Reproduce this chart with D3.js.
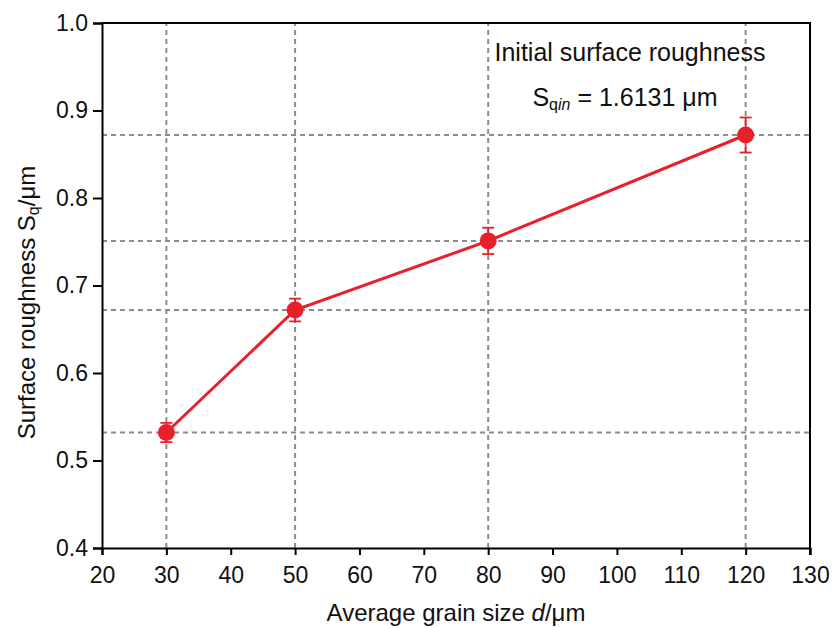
<!DOCTYPE html>
<html>
<head>
<meta charset="utf-8">
<script src="https://cdn.jsdelivr.net/npm/d3@7"></script>
<style>
  html, body { margin: 0; padding: 0; background: #fff; }
  svg { display: block; font-family: "Liberation Sans", Arial, sans-serif; }
</style>
</head>
<body>
<svg id="chart" width="834" height="628"></svg>
<script>
// Grain size (µm) and measured surface roughness Sq (µm) with error half-widths
const grainSize = [30, 50, 80, 120];
const roughness = [0.532, 0.672, 0.751, 0.872];
const roughnessErr = [0.011, 0.013, 0.015, 0.020];
const xTicks = [20, 30, 40, 50, 60, 70, 80, 90, 100, 110, 120, 130];
const yTicks = [0.4, 0.5, 0.6, 0.7, 0.8, 0.9, 1.0];

const svg = d3.select("#chart");
const margin = { left: 102, right: 24, top: 23, bottom: 80 };
const W = 834, H = 628;

const x = d3.scaleLinear().domain([20, 130]).range([margin.left, W - margin.right]);
const y = d3.scaleLinear().domain([0.4, 1.0]).range([H - margin.bottom, margin.top]);

const red = "#e8202a";
const gridColor = "#8c8c8c";

// Reference grid lines through every measured point
const grid = svg.append("g");
grid.selectAll("line.v").data(grainSize).join("line")
  .attr("x1", d => x(d)).attr("x2", d => x(d))
  .attr("y1", y(0.4)).attr("y2", y(1.0))
  .attr("stroke", gridColor).attr("stroke-width", 2).attr("stroke-dasharray", "5,4");
grid.selectAll("line.h").data(roughness).join("line")
  .attr("x1", x(20)).attr("x2", x(130))
  .attr("y1", d => y(d)).attr("y2", d => y(d))
  .attr("stroke", gridColor).attr("stroke-width", 2).attr("stroke-dasharray", "5,4");

// Axes
const xAxis = svg.append("g")
  .attr("transform", `translate(0,${y(0.4)})`)
  .call(d3.axisBottom(x).tickValues(xTicks).tickSize(7).tickPadding(12).tickFormat(d3.format("d")));
const yAxis = svg.append("g")
  .attr("transform", `translate(${x(20)},0)`)
  .call(d3.axisLeft(y).tickValues(yTicks).tickSize(9).tickPadding(5).tickFormat(d3.format(".1f")));
[xAxis, yAxis].forEach(g => {
  g.select(".domain").attr("stroke", "#000").attr("stroke-width", 2);
  g.selectAll(".tick line").attr("stroke", "#000").attr("stroke-width", 2);
  g.selectAll(".tick text").attr("fill", "#111").style("font-size", "23px")
    .style("font-family", "'Liberation Sans', Arial, sans-serif");
});

// Top and right frame
svg.append("path")
  .attr("d", `M${x(20)},${y(1.0)}H${x(130)}V${y(0.4) + 7}`)
  .attr("fill", "none").attr("stroke", "#000").attr("stroke-width", 2);

// Series line
svg.append("path")
  .datum(grainSize.map((g, i) => [g, roughness[i]]))
  .attr("d", d3.line().x(d => x(d[0])).y(d => y(d[1])))
  .attr("fill", "none").attr("stroke", red).attr("stroke-width", 3);

// Error bars
const eb = svg.append("g").attr("stroke", red).attr("stroke-width", 1.8);
grainSize.forEach((g, i) => {
  const cx = x(g), lo = y(roughness[i] - roughnessErr[i]), hi = y(roughness[i] + roughnessErr[i]);
  eb.append("line").attr("x1", cx).attr("x2", cx).attr("y1", lo).attr("y2", hi);
  eb.append("line").attr("x1", cx - 6).attr("x2", cx + 6).attr("y1", lo).attr("y2", lo);
  eb.append("line").attr("x1", cx - 6).attr("x2", cx + 6).attr("y1", hi).attr("y2", hi);
});

// Markers
svg.append("g").selectAll("circle").data(grainSize).join("circle")
  .attr("cx", d => x(d)).attr("cy", (d, i) => y(roughness[i]))
  .attr("r", 8.5).attr("fill", red);

// Annotation
const note = svg.append("g").attr("fill", "#111").style("font-size", "25px");
note.append("text").attr("x", 630).attr("y", 61).attr("text-anchor", "middle")
  .text("Initial surface roughness");
const sq = note.append("text").attr("x", 625).attr("y", 106).attr("text-anchor", "middle");
sq.append("tspan").text("S");
sq.append("tspan").attr("dy", 4).style("font-size", "16px").text("q");
sq.append("tspan").style("font-size", "16px").style("font-style", "italic").text("in");
sq.append("tspan").attr("dy", -4).text(" = 1.6131 μm");

// Axis titles
const xt = svg.append("text").attr("x", 456).attr("y", 621).attr("text-anchor", "middle")
  .attr("fill", "#111").style("font-size", "24px");
xt.append("tspan").text("Average grain size ");
xt.append("tspan").style("font-style", "italic").text("d");
xt.append("tspan").text("/μm");

const yt = svg.append("text")
  .attr("transform", `translate(35,${(y(0.4) + y(1.0)) / 2 + 17}) rotate(-90)`)
  .attr("text-anchor", "middle").attr("fill", "#111").style("font-size", "24px");
yt.append("tspan").text("Surface roughness S");
yt.append("tspan").attr("dy", 4).style("font-size", "16px").text("q");
yt.append("tspan").attr("dy", -4).text("/μm");
</script>
</body>
</html>
